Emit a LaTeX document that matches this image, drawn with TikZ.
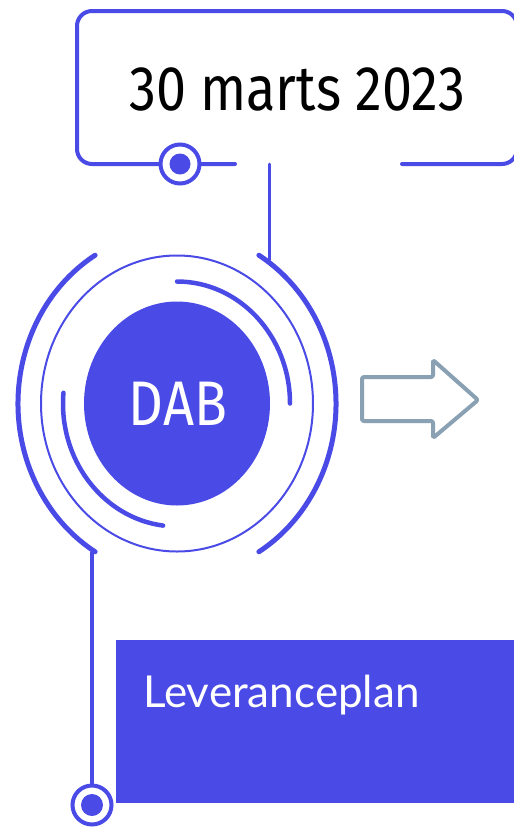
\documentclass[tikz,border=0pt]{standalone}
\usepackage{fontspec}
\setmainfont{Fira Sans}
\newfontfamily\labelfont{Lato}
\usetikzlibrary{shapes.geometric,calc}
\definecolor{dabblue}{HTML}{4A4AE6}
\definecolor{arrowgray}{HTML}{8AA1B3}
\begin{document}
\begin{tikzpicture}[x=1pt,y=1pt,line cap=round,
  bline/.style={draw=dabblue,line width=#1},
  bline/.default=4pt,
  ringmark/.style={draw=dabblue,line width=4pt,fill=white,circle,inner sep=0pt,minimum size=39pt},
  dotmark/.style={fill=dabblue,circle,inner sep=0pt,minimum size=21pt}]
\useasboundingbox (0,0) rectangle (514,-828);
% date box
\draw[bline,rounded corners=15pt] (235,-164) -- (77,-164) -- (77,-11) -- (517,-11) -- (517,-164) -- (402,-164);
\node[anchor=base,inner sep=0pt,font=\fontsize{63}{63}\selectfont] (date) at (297,-110) {\scalebox{0.855}[1]{30 marts 2023}};
\node[ringmark] (topring) at (180,-164) {};
\node[dotmark] (topdot) at (180,-164) {};
% center
\coordinate (c) at (177,-403.5);
\node[ellipse,fill=dabblue,inner sep=0pt,minimum width=186pt,minimum height=204pt] (dab) at (c) {};
\node[anchor=base,inner sep=0pt,text=white,font=\fontsize{63}{63}\selectfont] (dabtext) at (178,-425) {\scalebox{0.86}[1]{DAB}};
\draw[bline=2pt] (c) ellipse [x radius=136, y radius=148];
\draw[bline=5pt] ($(c)+(121:159 and 173)$) arc[start angle=121,end angle=239,x radius=159,y radius=173] coordinate (leftend);
\draw[bline=5pt] ($(c)+(59:159 and 173)$) coordinate (rightstart) arc[start angle=59,end angle=-59,x radius=159,y radius=173];
\draw[bline=4.5pt] ($(c)+(90:113 and 122)$) arc[start angle=90,end angle=0,x radius=113,y radius=122];
\draw[bline=4.5pt] ($(c)+(175:114 and 123)$) arc[start angle=175,end angle=263,x radius=114,y radius=123];
% connectors
\coordinate (topjoin) at (269,-164);
\coordinate (arcjoin) at (269,-260);
\draw[bline=3pt] (topjoin) -- (arcjoin);
\node[ringmark] (botring) at (92,-805) {};
\node[dotmark,minimum size=22pt] (botdot) at (92,-805) {};
\coordinate (lowstart) at (92,-552);
\draw[bline=4pt,line cap=butt] (lowstart) -- (botring.north);
% arrow
\draw[arrowgray,line width=4pt,line join=round,rounded corners=2pt] (362,-377) -- (433,-377) -- (433,-360) -- (478,-400) -- (433,-438) -- (433,-421) -- (362,-421) -- cycle;
% plan box
\node[fill=dabblue,inner sep=0pt,minimum width=404pt,minimum height=163pt,anchor=north west] (plan) at (116,-640) {};
\node[anchor=base west,inner sep=0pt,text=white,font=\labelfont\fontsize{44}{44}\selectfont] (plantext) at (143,-707) {Leveranceplan};
\end{tikzpicture}
\end{document}
